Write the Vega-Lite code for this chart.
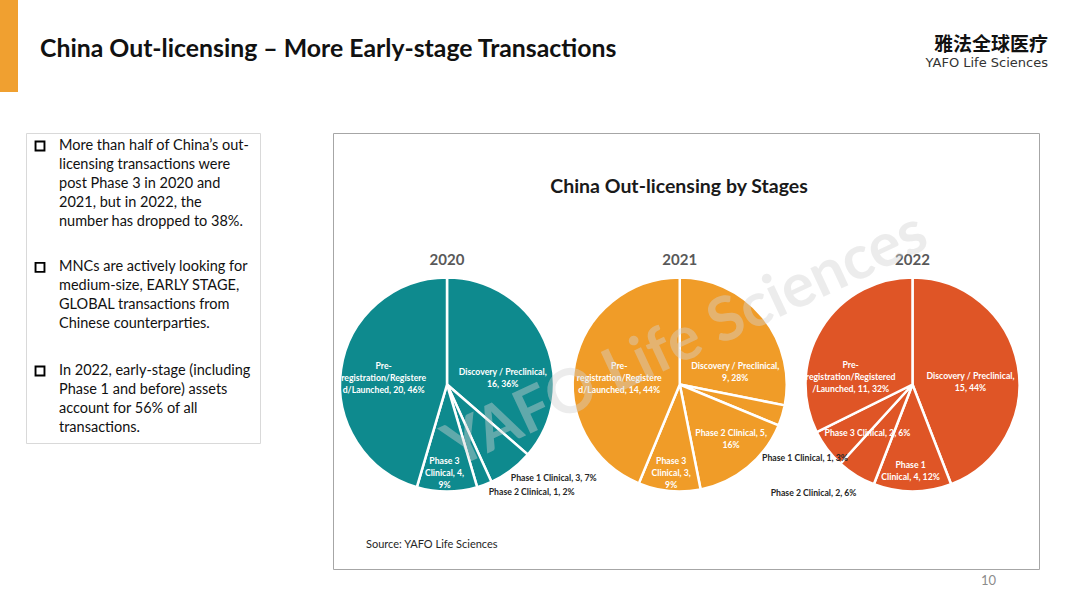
{
  "$schema": "https://vega.github.io/schema/vega-lite/v6.json",
  "padding": 0,
  "background": "#FFFFFF",
  "config": {"font": "Lato", "view": {"stroke": null}},
  "datasets": {
    "stages": [
      {"year": "2020", "stage": "Discovery / Preclinical", "order": 1, "count": 16, "label": "Discovery / Preclinical,|16, 36%"},
      {"year": "2020", "stage": "Phase 1 Clinical", "order": 2, "count": 3, "label": "Phase 1 Clinical, 3, 7%"},
      {"year": "2020", "stage": "Phase 2 Clinical", "order": 3, "count": 1, "label": "Phase 2 Clinical, 1, 2%"},
      {"year": "2020", "stage": "Phase 3 Clinical", "order": 4, "count": 4, "label": "Phase 3|Clinical, 4,|9%"},
      {"year": "2020", "stage": "Pre-registration/Registered/Launched", "order": 5, "count": 20, "label": "Pre-|registration/Registere|d/Launched, 20, 46%"},
      {"year": "2021", "stage": "Discovery / Preclinical", "order": 1, "count": 9, "label": "Discovery / Preclinical,|9, 28%"},
      {"year": "2021", "stage": "Phase 1 Clinical", "order": 2, "count": 1, "label": "Phase 1 Clinical, 1, 3%"},
      {"year": "2021", "stage": "Phase 2 Clinical", "order": 3, "count": 5, "label": "Phase 2 Clinical, 5,|16%"},
      {"year": "2021", "stage": "Phase 3 Clinical", "order": 4, "count": 3, "label": "Phase 3|Clinical, 3,|9%"},
      {"year": "2021", "stage": "Pre-registration/Registered/Launched", "order": 5, "count": 14, "label": "Pre-|registration/Registere|d/Launched, 14, 44%"},
      {"year": "2022", "stage": "Discovery / Preclinical", "order": 1, "count": 15, "label": "Discovery / Preclinical,|15, 44%"},
      {"year": "2022", "stage": "Phase 1 Clinical", "order": 2, "count": 4, "label": "Phase 1|Clinical, 4, 12%"},
      {"year": "2022", "stage": "Phase 2 Clinical", "order": 3, "count": 2, "label": "Phase 2 Clinical, 2, 6%"},
      {"year": "2022", "stage": "Phase 3 Clinical", "order": 4, "count": 2, "label": "Phase 3 Clinical, 2, 6%"},
      {"year": "2022", "stage": "Pre-registration/Registered/Launched", "order": 5, "count": 11, "label": "Pre-|registration/Registered|/Launched, 11, 32%"}
    ],
    "notes": [
      {"para": 1, "text": "More than half of China’s out-|licensing transactions were|post Phase 3 in 2020 and|2021, but in 2022, the|number has dropped to 38%."},
      {"para": 2, "text": "MNCs are actively looking for|medium-size, EARLY STAGE,|GLOBAL transactions from|Chinese counterparties."},
      {"para": 3, "text": "In 2022, early-stage (including|Phase 1 and before) assets|account for 56% of all|transactions."}
    ],
    "annotations": [
      {"kind": "watermark", "text": "YAFO Life Sciences"},
      {"kind": "source", "text": "Source: YAFO Life Sciences"}
    ]
  },
  "spacing": 0,
  "vconcat": [
    {
      "spacing": 0,
      "hconcat": [
        {"width": 18, "height": 92, "view": {"fill": "#F0A030", "stroke": null}, "data": {"values": []}, "mark": "point"},
        {"width": 830, "height": 132, "data": {"values": []}, "mark": "point",
         "title": {"text": "China Out-licensing – More Early-stage Transactions", "anchor": "start", "frame": "group", "orient": "top", "offset": -62, "dx": 22, "fontSize": 24.8, "fontWeight": "bold", "font": "Lato", "color": "#111111"}},
        {"width": 200, "height": 132, "data": {"values": []}, "mark": "point",
         "title": {"text": "雅法全球医疗", "subtitle": "YAFO Life Sciences", "anchor": "end", "frame": "group", "orient": "top", "offset": -70, "font": "Noto Sans CJK SC", "fontSize": 19, "fontWeight": "bold", "color": "#111111", "subtitleFont": "DejaVu Sans", "subtitleFontSize": 13, "subtitleColor": "#333333", "subtitlePadding": 2}}
      ]
    },
    {
      "spacing": 0,
      "hconcat": [
        {"width": 25, "height": 10, "data": {"values": []}, "mark": "point"},
        {
          "width": 234, "height": 310,
          "view": {"stroke": "#D9D9D9", "strokeWidth": 1},
          "data": {"name": "notes"},
          "encoding": {"y": {"field": "para", "type": "quantitative", "scale": {"type": "pow", "exponent": 0.7, "domain": [1, 3], "range": [13, 238], "zero": false, "nice": false}, "axis": null}},
          "layer": [
            {"mark": {"type": "point", "shape": "square", "filled": false, "size": 80, "strokeWidth": 1.9, "color": "#000000", "opacity": 1},
             "encoding": {"x": {"datum": "bullet", "type": "nominal", "scale": {"type": "point", "domain": ["bullet", "text"], "range": [14, 33], "padding": 0}, "axis": null}}},
            {"mark": {"type": "text", "align": "left", "baseline": "middle", "lineBreak": "|", "lineHeight": 19, "fontSize": 14.5, "color": "#111111"},
             "encoding": {"x": {"datum": "text", "type": "nominal", "scale": {"type": "point", "domain": ["bullet", "text"], "range": [14, 33], "padding": 0}, "axis": null}, "text": {"field": "text"}}}
          ]
        },
        {"width": 71, "height": 10, "data": {"values": []}, "mark": "point"},
        {
          "width": 706, "height": 436,
          "view": {"stroke": "#A6A6A6", "strokeWidth": 1},
          "title": {"text": "China Out-licensing by Stages", "orient": "top", "anchor": "middle", "frame": "group", "offset": -64, "dx": -7, "fontSize": 19.5, "fontWeight": "bold", "color": "#1A1A1A"},
          "data": {"name": "stages"},
          "encoding": {
            "x": {"field": "year", "type": "ordinal", "scale": {"type": "point", "domain": ["2020", "2021", "2022"], "range": [114, 579.5], "padding": 0}, "axis": null},
            "y": {"datum": "pie", "type": "nominal", "scale": {"type": "point", "domain": ["pie", "source"], "range": [251.5, 412], "padding": 0}, "axis": null}
          },
          "layer": [
            {
              "transform": [{"filter": "datum.year === '2020'"}],
              "mark": {"type": "arc", "outerRadius": 107, "fill": "#0E8A8E", "stroke": "#FFFFFF", "strokeWidth": 2.5},
              "encoding": {"theta": {"field": "count", "type": "quantitative", "stack": "normalize"}, "order": {"field": "order", "type": "quantitative"}}
            },
            {
              "transform": [{"filter": "datum.year === '2021'"}],
              "mark": {"type": "arc", "outerRadius": 107, "fill": "#F09C28", "stroke": "#FFFFFF", "strokeWidth": 2.5},
              "encoding": {"theta": {"field": "count", "type": "quantitative", "stack": "normalize"}, "order": {"field": "order", "type": "quantitative"}}
            },
            {
              "transform": [{"filter": "datum.year === '2022'"}],
              "mark": {"type": "arc", "outerRadius": 107, "fill": "#DF5526", "stroke": "#FFFFFF", "strokeWidth": 2.5},
              "encoding": {"theta": {"field": "count", "type": "quantitative", "stack": "normalize"}, "order": {"field": "order", "type": "quantitative"}}
            },
            {
              "transform": [{"filter": "datum.year === '2020'"}],
              "encoding": {"theta": {"field": "count", "type": "quantitative", "stack": "normalize"}, "order": {"field": "order", "type": "quantitative"}},
              "layer": [
                {"mark": {"type": "text", "clip": true, "radius": 57, "thetaOffset": 0.215, "color": "#FFFFFF", "fontSize": 8.7, "fontWeight": "bold", "lineBreak": "|", "lineHeight": 12, "align": "center", "baseline": "middle"},
                 "encoding": {"text": {"condition": {"test": "datum.stage === 'Discovery / Preclinical'", "field": "label"}, "value": ""}}},
                {"mark": {"type": "text", "clip": true, "radius": 142, "thetaOffset": -0.208, "color": "#262626", "fontSize": 8.7, "fontWeight": "bold", "lineBreak": "|", "lineHeight": 12, "align": "center", "baseline": "middle"},
                 "encoding": {"text": {"condition": {"test": "datum.stage === 'Phase 1 Clinical'", "field": "label"}, "value": ""}}},
                {"mark": {"type": "text", "clip": true, "radius": 137, "thetaOffset": -0.309, "color": "#262626", "fontSize": 8.7, "fontWeight": "bold", "lineBreak": "|", "lineHeight": 12, "align": "center", "baseline": "middle"},
                 "encoding": {"text": {"condition": {"test": "datum.stage === 'Phase 2 Clinical'", "field": "label"}, "value": ""}}},
                {"mark": {"type": "text", "clip": true, "radius": 76.5, "thetaOffset": 0.033, "color": "#FFFFFF", "fontSize": 8.7, "fontWeight": "bold", "lineBreak": "|", "lineHeight": 12, "align": "center", "baseline": "middle"},
                 "encoding": {"text": {"condition": {"test": "datum.stage === 'Phase 3 Clinical'", "field": "label"}, "value": ""}}},
                {"mark": {"type": "text", "clip": true, "radius": 66, "thetaOffset": 0.14, "color": "#FFFFFF", "fontSize": 8.7, "fontWeight": "bold", "lineBreak": "|", "lineHeight": 12, "align": "center", "baseline": "middle"},
                 "encoding": {"text": {"condition": {"test": "datum.stage === 'Pre-registration/Registered/Launched'", "field": "label"}, "value": ""}}}
              ]
            },
            {
              "transform": [{"filter": "datum.year === '2021'"}],
              "encoding": {"theta": {"field": "count", "type": "quantitative", "stack": "normalize"}, "order": {"field": "order", "type": "quantitative"}},
              "layer": [
                {"mark": {"type": "text", "clip": true, "radius": 58.7, "thetaOffset": 0.358, "color": "#FFFFFF", "fontSize": 8.7, "fontWeight": "bold", "lineBreak": "|", "lineHeight": 12, "align": "center", "baseline": "middle"},
                 "encoding": {"text": {"condition": {"test": "datum.stage === 'Discovery / Preclinical'", "field": "label"}, "value": ""}}},
                {"mark": {"type": "text", "clip": true, "radius": 145, "thetaOffset": 0.234, "color": "#262626", "fontSize": 8.7, "fontWeight": "bold", "lineBreak": "|", "lineHeight": 12, "align": "center", "baseline": "middle"},
                 "encoding": {"text": {"condition": {"test": "datum.stage === 'Phase 1 Clinical'", "field": "label"}, "value": ""}}},
                {"mark": {"type": "text", "clip": true, "radius": 71, "thetaOffset": -0.122, "color": "#FFFFFF", "fontSize": 8.7, "fontWeight": "bold", "lineBreak": "|", "lineHeight": 12, "align": "center", "baseline": "middle"},
                 "encoding": {"text": {"condition": {"test": "datum.stage === 'Phase 2 Clinical'", "field": "label"}, "value": ""}}},
                {"mark": {"type": "text", "clip": true, "radius": 76.5, "thetaOffset": 0.014, "color": "#FFFFFF", "fontSize": 8.7, "fontWeight": "bold", "lineBreak": "|", "lineHeight": 12, "align": "center", "baseline": "middle"},
                 "encoding": {"text": {"condition": {"test": "datum.stage === 'Phase 3 Clinical'", "field": "label"}, "value": ""}}},
                {"mark": {"type": "text", "clip": true, "radius": 63.4, "thetaOffset": 0.108, "color": "#FFFFFF", "fontSize": 8.7, "fontWeight": "bold", "lineBreak": "|", "lineHeight": 12, "align": "center", "baseline": "middle"},
                 "encoding": {"text": {"condition": {"test": "datum.stage === 'Pre-registration/Registered/Launched'", "field": "label"}, "value": ""}}}
              ]
            },
            {
              "transform": [{"filter": "datum.year === '2022'"}],
              "encoding": {"theta": {"field": "count", "type": "quantitative", "stack": "normalize"}, "order": {"field": "order", "type": "quantitative"}},
              "layer": [
                {"mark": {"type": "text", "clip": true, "radius": 58.7, "thetaOffset": 0.031, "color": "#FFFFFF", "fontSize": 8.7, "fontWeight": "bold", "lineBreak": "|", "lineHeight": 12, "align": "center", "baseline": "middle"},
                 "encoding": {"text": {"condition": {"test": "datum.stage === 'Discovery / Preclinical'", "field": "label"}, "value": ""}}},
                {"mark": {"type": "text", "clip": true, "radius": 81, "thetaOffset": 0.024, "color": "#FFFFFF", "fontSize": 8.7, "fontWeight": "bold", "lineBreak": "|", "lineHeight": 12, "align": "center", "baseline": "middle"},
                 "encoding": {"text": {"condition": {"test": "datum.stage === 'Phase 1 Clinical'", "field": "label"}, "value": ""}}},
                {"mark": {"type": "text", "clip": true, "radius": 146.5, "thetaOffset": 0.187, "color": "#262626", "fontSize": 8.7, "fontWeight": "bold", "lineBreak": "|", "lineHeight": 12, "align": "center", "baseline": "middle"},
                 "encoding": {"text": {"condition": {"test": "datum.stage === 'Phase 2 Clinical'", "field": "label"}, "value": ""}}},
                {"mark": {"type": "text", "clip": true, "radius": 66.5, "thetaOffset": -0.181, "color": "#FFFFFF", "fontSize": 8.7, "fontWeight": "bold", "lineBreak": "|", "lineHeight": 12, "align": "center", "baseline": "middle"},
                 "encoding": {"text": {"condition": {"test": "datum.stage === 'Phase 3 Clinical'", "field": "label"}, "value": ""}}},
                {"mark": {"type": "text", "clip": true, "radius": 65, "thetaOffset": -0.243, "color": "#FFFFFF", "fontSize": 8.7, "fontWeight": "bold", "lineBreak": "|", "lineHeight": 12, "align": "center", "baseline": "middle"},
                 "encoding": {"text": {"condition": {"test": "datum.stage === 'Pre-registration/Registered/Launched'", "field": "label"}, "value": ""}}}
              ]
            },
            {
              "transform": [{"aggregate": [{"op": "sum", "field": "count", "as": "total"}], "groupby": ["year"]}],
              "mark": {"type": "text", "radius": 125, "theta": 0, "fontSize": 15, "fontWeight": "bold", "color": "#595959", "align": "center", "baseline": "middle"},
              "encoding": {"text": {"field": "year"}}
            },
            {
              "data": {"name": "annotations"},
              "transform": [{"filter": "datum.kind === 'source'"}],
              "mark": {"type": "text", "align": "left", "baseline": "middle", "dx": -81, "fontSize": 11, "color": "#262626"},
              "encoding": {
                "x": {"datum": "2020", "type": "ordinal"},
                "y": {"datum": "source", "type": "nominal"},
                "text": {"field": "text"}
              }
            },
            {
              "data": {"name": "annotations"},
              "transform": [{"filter": "datum.kind === 'watermark'"}],
              "mark": {"type": "text", "clip": true, "radius": 44, "theta": 0.143, "angle": -25, "fontSize": 61, "fontWeight": "bold", "color": "#D4D4D4", "opacity": 0.42, "align": "center", "baseline": "middle"},
              "encoding": {
                "x": {"datum": "2021", "type": "ordinal"},
                "y": {"datum": "pie", "type": "nominal"},
                "text": {"field": "text"}
              }
            }
          ]
        }
      ]
    },
    {"width": 996, "height": 30, "data": {"values": []}, "mark": "point",
     "title": {"text": "10", "anchor": "end", "frame": "group", "orient": "top", "offset": -18, "fontSize": 13, "fontWeight": "normal", "color": "#8C8C8C"}}
  ]
}
